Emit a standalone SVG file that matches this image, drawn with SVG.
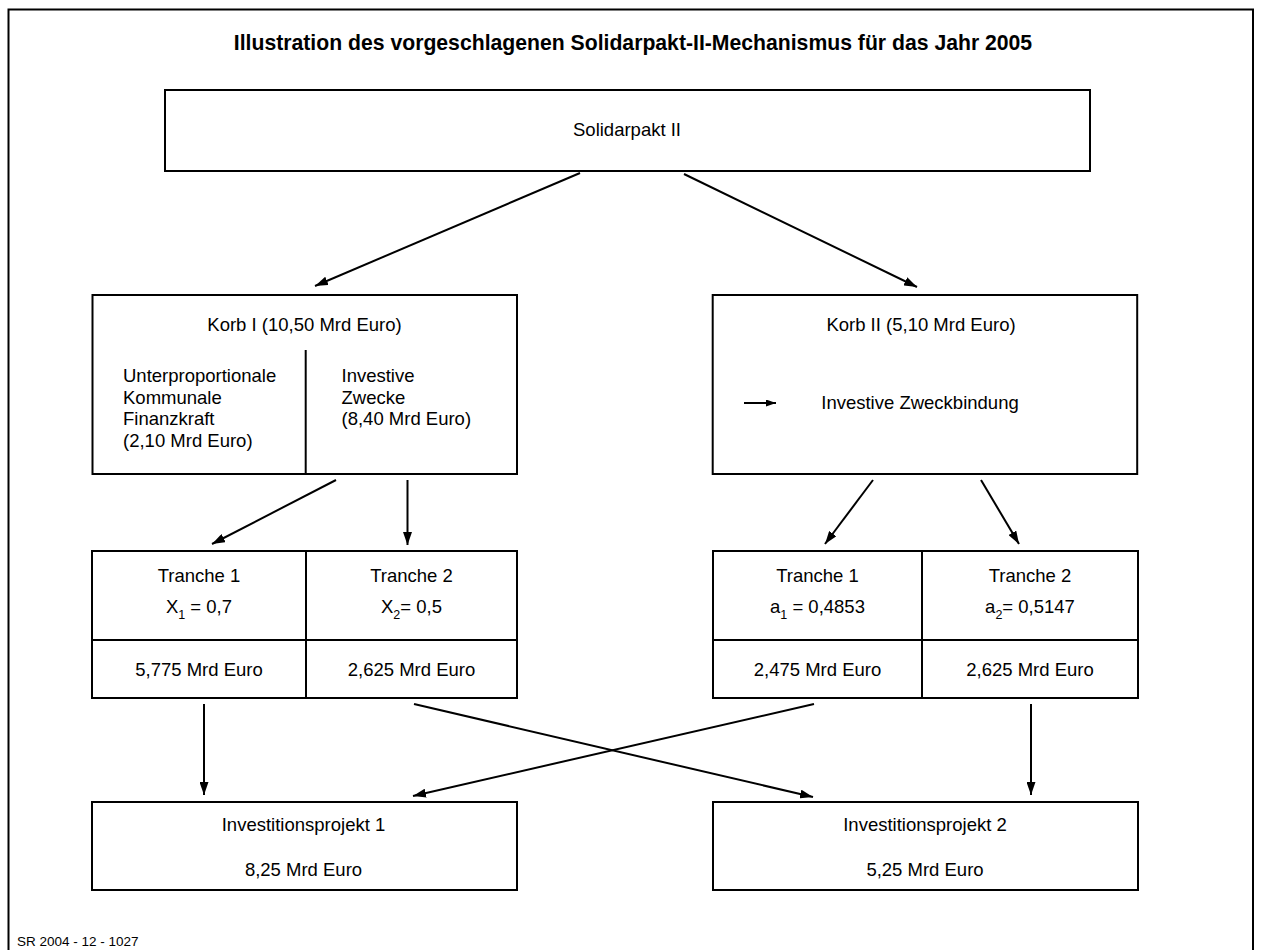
<svg xmlns="http://www.w3.org/2000/svg" width="1262" height="950" viewBox="0 0 1262 950">
<style>
  .box{fill:#fff;stroke:#000;stroke-width:2}
  .ln{fill:none;stroke:#000;stroke-width:2}
  .t{font-family:"Liberation Sans",Arial,Helvetica,sans-serif;font-size:18.5px;fill:#000}
  .c{text-anchor:middle}
  .title{font-family:"Liberation Sans",Arial,Helvetica,sans-serif;font-size:21.2px;font-weight:bold;fill:#000;text-anchor:middle}
  .foot{font-family:"Liberation Sans",Arial,Helvetica,sans-serif;font-size:13.5px;fill:#000}
  .sub{font-size:12.5px}
</style>
<defs>
  <marker id="ah" viewBox="0 0 13 9" markerWidth="13" markerHeight="9" refX="13" refY="4.5" orient="auto" markerUnits="userSpaceOnUse">
    <path d="M0,0 L13,4.5 L0,9 Z" fill="#000"/>
  </marker>
  <marker id="ahs" viewBox="0 0 10 7" markerWidth="10" markerHeight="7" refX="10" refY="3.5" orient="auto" markerUnits="userSpaceOnUse">
    <path d="M0,0 L10,3.5 L0,7 Z" fill="#000"/>
  </marker>
</defs>
<rect width="1262" height="950" fill="#fff"/>
<path class="ln" d="M8.5,960 V9.5 H1253 V960"/>
<text class="title" x="633" y="50">Illustration des vorgeschlagenen Solidarpakt-II-Mechanismus für das Jahr 2005</text>

<g id="solidarpakt">
  <rect class="box" x="165" y="90" width="925" height="81"/>
  <text class="t c" x="627" y="136">Solidarpakt II</text>
</g>

<g id="korb1">
  <rect class="box" x="92.5" y="295" width="424.5" height="179"/>
  <line class="ln" x1="305.7" y1="350" x2="305.7" y2="474"/>
  <text class="t c" x="304.5" y="331">Korb I (10,50 Mrd Euro)</text>
  <text class="t" x="123">
    <tspan x="123" y="382">Unterproportionale</tspan>
    <tspan x="123" y="403.5">Kommunale</tspan>
    <tspan x="123" y="425">Finanzkraft</tspan>
    <tspan x="123" y="446.5">(2,10 Mrd Euro)</tspan>
  </text>
  <text class="t" x="341.5">
    <tspan x="341.5" y="382">Investive</tspan>
    <tspan x="341.5" y="403.5">Zwecke</tspan>
    <tspan x="341.5" y="425">(8,40 Mrd Euro)</tspan>
  </text>
</g>

<g id="korb2">
  <rect class="box" x="712.7" y="295" width="424.5" height="179"/>
  <text class="t c" x="921" y="331">Korb II (5,10 Mrd Euro)</text>
  <line class="ln" x1="744" y1="403" x2="776" y2="403" marker-end="url(#ahs)"/>
  <text class="t c" x="920" y="409">Investive Zweckbindung</text>
</g>

<g id="tranchen1">
  <rect class="box" x="92" y="551" width="425" height="147"/>
  <line class="ln" x1="306" y1="551" x2="306" y2="698"/>
  <line class="ln" x1="92" y1="640" x2="517" y2="640"/>
  <text class="t c" x="199" y="582">Tranche 1</text>
  <text class="t c" x="199" y="613">X<tspan class="sub" dy="6">1</tspan><tspan dy="-6"> = 0,7</tspan></text>
  <text class="t c" x="199" y="676">5,775 Mrd Euro</text>
  <text class="t c" x="411.5" y="582">Tranche 2</text>
  <text class="t c" x="411.5" y="613">X<tspan class="sub" dy="6">2</tspan><tspan dy="-6">= 0,5</tspan></text>
  <text class="t c" x="411.5" y="676">2,625 Mrd Euro</text>
</g>

<g id="tranchen2">
  <rect class="box" x="713" y="551" width="425" height="147"/>
  <line class="ln" x1="922" y1="551" x2="922" y2="698"/>
  <line class="ln" x1="713" y1="640" x2="1138" y2="640"/>
  <text class="t c" x="817.5" y="582">Tranche 1</text>
  <text class="t c" x="817.5" y="613">a<tspan class="sub" dy="6">1</tspan><tspan dy="-6"> = 0,4853</tspan></text>
  <text class="t c" x="817.5" y="676">2,475 Mrd Euro</text>
  <text class="t c" x="1030" y="582">Tranche 2</text>
  <text class="t c" x="1030" y="613">a<tspan class="sub" dy="6">2</tspan><tspan dy="-6">= 0,5147</tspan></text>
  <text class="t c" x="1030" y="676">2,625 Mrd Euro</text>
</g>

<g id="projekt1">
  <rect class="box" x="92" y="802" width="425" height="88"/>
  <text class="t c" x="303.5" y="831">Investitionsprojekt 1</text>
  <text class="t c" x="303.5" y="876">8,25 Mrd Euro</text>
</g>

<g id="projekt2">
  <rect class="box" x="713" y="802" width="425" height="88"/>
  <text class="t c" x="925" y="831">Investitionsprojekt 2</text>
  <text class="t c" x="925" y="876">5,25 Mrd Euro</text>
</g>

<g id="connectors">
  <line class="ln" x1="580" y1="173" x2="315" y2="286" marker-end="url(#ah)"/>
  <line class="ln" x1="684" y1="174" x2="917" y2="287" marker-end="url(#ah)"/>
  <line class="ln" x1="336" y1="480" x2="212" y2="544" marker-end="url(#ah)"/>
  <line class="ln" x1="407.5" y1="480" x2="407.5" y2="545" marker-end="url(#ah)"/>
  <line class="ln" x1="873" y1="480" x2="825" y2="544" marker-end="url(#ah)"/>
  <line class="ln" x1="981" y1="480" x2="1019" y2="544" marker-end="url(#ah)"/>
  <line class="ln" x1="204" y1="704" x2="204" y2="795" marker-end="url(#ah)"/>
  <line class="ln" x1="414" y1="704" x2="813" y2="797" marker-end="url(#ah)"/>
  <line class="ln" x1="814" y1="704" x2="413" y2="796" marker-end="url(#ah)"/>
  <line class="ln" x1="1031" y1="704" x2="1031" y2="795" marker-end="url(#ah)"/>
</g>

<text class="foot" x="17" y="946">SR 2004 - 12 - 1027</text>
</svg>
